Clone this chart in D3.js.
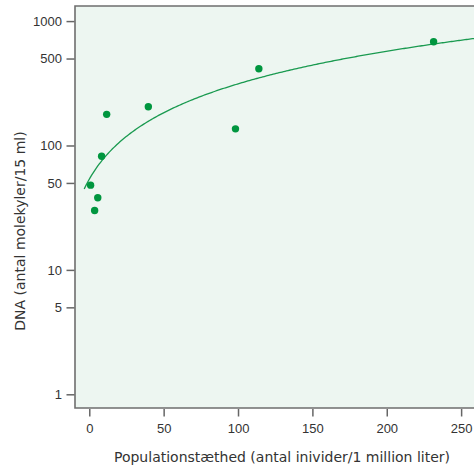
<!DOCTYPE html>
<html>
<head>
<meta charset="utf-8">
<script src="https://cdn.jsdelivr.net/npm/d3@7"></script>
<style>
  body { margin: 0; background: #fff; }
  svg { display: block; font-family: 'DejaVu Sans', sans-serif; }
  .tick text { font-size: 13px; fill: #333; }
  .tick line { stroke: #666; stroke-width: 1.5; }
</style>
</head>
<body>
<svg class="canvas" width="474" height="468"></svg>
<script>
'use strict'

// Population density (individuals / 1 million litre)
const density = [0.9, 3.6, 5.7, 8.3, 11.7, 39.7, 98.3, 114, 231.5]
// DNA (molecules / 15 ml)
const dna = [48, 30, 38, 82, 178, 205, 136, 414, 683]

const xTicks = [0, 50, 100, 150, 200, 250]
const yTicks = [1, 5, 10, 50, 100, 500, 1000]

const svg = d3.select('.canvas')
const plotLeft = 75, plotTop = 6, plotBottom = 408, plotRight = 476

const x = d3.scaleLinear().domain([-9.6, 260]).range([plotLeft, plotRight])
const y = d3.scaleLog().domain([0.776, 1322]).range([plotBottom, plotTop])

// Plot area
svg.append('rect')
  .attr('x', plotLeft).attr('y', plotTop)
  .attr('width', plotRight - plotLeft).attr('height', plotBottom - plotTop)
  .attr('fill', '#edf6f1')

svg.append('path')
  .attr('d', `M${plotRight},${plotTop}H${plotLeft}V${plotBottom}H${plotRight}`)
  .attr('fill', 'none')
  .attr('stroke', '#6e6e6e')
  .attr('stroke-width', 1.6)

// Axes
svg.append('g')
  .attr('transform', `translate(${plotLeft - 0.5},0)`)
  .call(d3.axisLeft(y).tickValues(yTicks).tickFormat(d3.format('d')).tickSize(8).tickPadding(4.5))
  .call(g => g.select('.domain').remove())

svg.append('g')
  .attr('transform', `translate(0,${plotBottom + 1})`)
  .call(d3.axisBottom(x).tickValues(xTicks).tickSize(7.5).tickPadding(7))
  .call(g => g.select('.domain').remove())

// Linear fit through the points (least squares)
const mx = d3.mean(density), my = d3.mean(dna)
const slope = d3.sum(density, (d, i) => (d - mx) * (dna[i] - my)) / d3.sum(density, d => (d - mx) ** 2)
const intercept = my - slope * mx
const fitX = d3.range(-3.4, 262, 1)

svg.append('path')
  .datum(fitX)
  .attr('d', d3.line().x(d => x(d)).y(d => y(intercept + slope * d)))
  .attr('fill', 'none')
  .attr('stroke', '#1a9a50')
  .attr('stroke-width', 1.3)

// Points
svg.selectAll('circle')
  .data(density)
  .enter()
  .append('circle')
  .attr('cx', d => x(d))
  .attr('cy', (d, i) => y(dna[i]))
  .attr('r', 3.7)
  .attr('fill', '#00963f')

// Axis titles
svg.append('text')
  .attr('x', 282).attr('y', 462)
  .attr('text-anchor', 'middle')
  .attr('font-size', 14)
  .attr('fill', '#333')
  .text('Populationstæthed (antal inivider/1 million liter)')

svg.append('text')
  .attr('transform', 'translate(25,231) rotate(-90)')
  .attr('text-anchor', 'middle')
  .attr('font-size', 14)
  .attr('fill', '#333')
  .text('DNA (antal molekyler/15 ml)')
</script>
</body>
</html>
